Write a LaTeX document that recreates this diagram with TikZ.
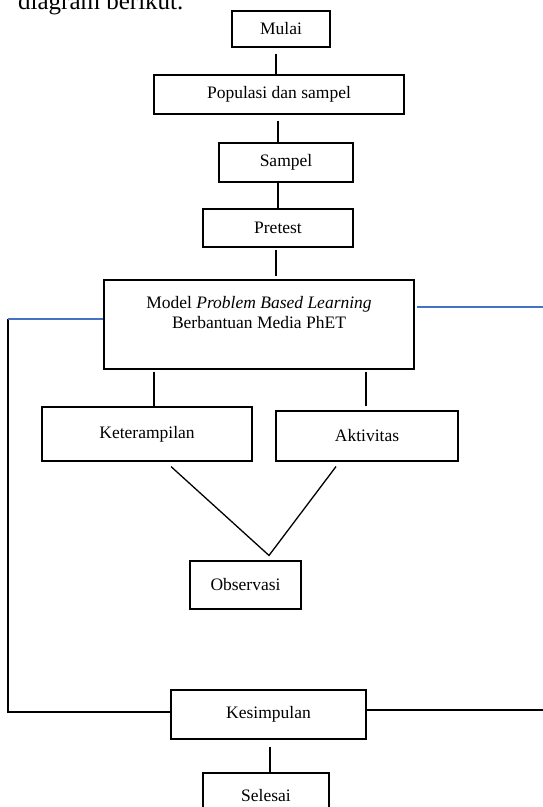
\documentclass[tikz,border=0pt]{standalone}
\usepackage{fontspec}
\setmainfont{Liberation Serif}
\definecolor{lineblue}{RGB}{68,114,196}
\begin{document}
\begin{tikzpicture}[x=1pt,y=-1pt,
  box/.style={draw, rectangle, line width=1.1pt, inner sep=0pt, font=\fontsize{17.5}{20}\selectfont},
  conn/.style={draw, line width=1.3pt},
  blueconn/.style={draw=lineblue, line width=1.3pt}]
\useasboundingbox (0,0) rectangle (543,807);
\node[anchor=base west, font=\fontsize{25}{30}\selectfont, inner sep=0pt] (intro) at (18,9) {diagram berikut.};
\node[box, minimum width=98pt, minimum height=36pt] (mulai) at (281,29) {Mulai};
\node[box, minimum width=250pt, minimum height=39pt] (pop) at (279,94.5) {Populasi dan sampel};
\node[box, minimum width=134pt, minimum height=39pt] (samp) at (286,162.5) {Sampel};
\node[box, minimum width=150pt, minimum height=38pt] (pre) at (278,228) {Pretest};
\node[box, minimum width=310pt, minimum height=89pt] (model) at (259,324.5) {};
\node[font=\fontsize{17.5}{20}\selectfont, align=center, inner sep=0pt] (modeltxt) at (259,313) {Model \textit{Problem Based Learning}\\Berbantuan Media PhET};
\node[box, minimum width=210pt, minimum height=54pt] (ket) at (147,434) {Keterampilan};
\node[box, minimum width=182pt, minimum height=50pt] (akt) at (367,436) {Aktivitas};
\node[box, minimum width=111pt, minimum height=48pt] (obs) at (245.5,585) {Observasi};
\node[box, minimum width=195pt, minimum height=49pt] (kes) at (268.5,714.5) {Kesimpulan};
\node[box, minimum width=126pt, minimum height=45pt] (sel) at (266,795.5) {Selesai};

\coordinate (m1) at ([xshift=-5pt,yshift=-6pt]mulai.south);
\draw[conn] (m1) -- (m1 |- pop.north);
\coordinate (p1) at ([xshift=-1pt,yshift=-6pt]pop.south);
\draw[conn] (p1) -- (p1 |- samp.north);
\coordinate (s1) at ([xshift=-8pt]samp.south);
\draw[conn] (s1) -- (s1 |- pre.north);
\coordinate (r1) at ([xshift=-2pt,yshift=-2pt]pre.south);
\draw[conn] (r1) -- ([yshift=3pt]r1 |- model.north);
\coordinate (k1) at ([xshift=7pt]ket.north);
\draw[conn] ([yshift=-2pt]k1 |- model.south) -- (k1);
\coordinate (a1) at ([xshift=-1pt,yshift=4pt]akt.north);
\draw[conn] ([yshift=-2pt]a1 |- model.south) -- (a1);
\coordinate (apex) at ([xshift=23.5pt,yshift=5pt]obs.north);
\coordinate (kd) at ([xshift=24pt,yshift=-5pt]ket.south);
\coordinate (ad) at ([xshift=-31pt,yshift=-5pt]akt.south);
\draw[conn] (kd) -- (apex) -- (ad);

\coordinate (ll) at (8,319);
\coordinate (lb) at (8,712);
\draw[conn] (ll) -- (lb) -- (lb -| kes.west);
\draw[blueconn] (model.west |- ll) -- (ll);
\coordinate (rr) at (543,307);
\draw[blueconn] ([xshift=2pt]model.east |- rr) -- (rr);
\coordinate (rb) at (543,710);
\draw[conn] (kes.east |- rb) -- (rb);
\coordinate (e1) at ([xshift=1.5pt,yshift=-7pt]kes.south);
\draw[conn] (e1) -- (e1 |- sel.north);
\end{tikzpicture}
\end{document}
